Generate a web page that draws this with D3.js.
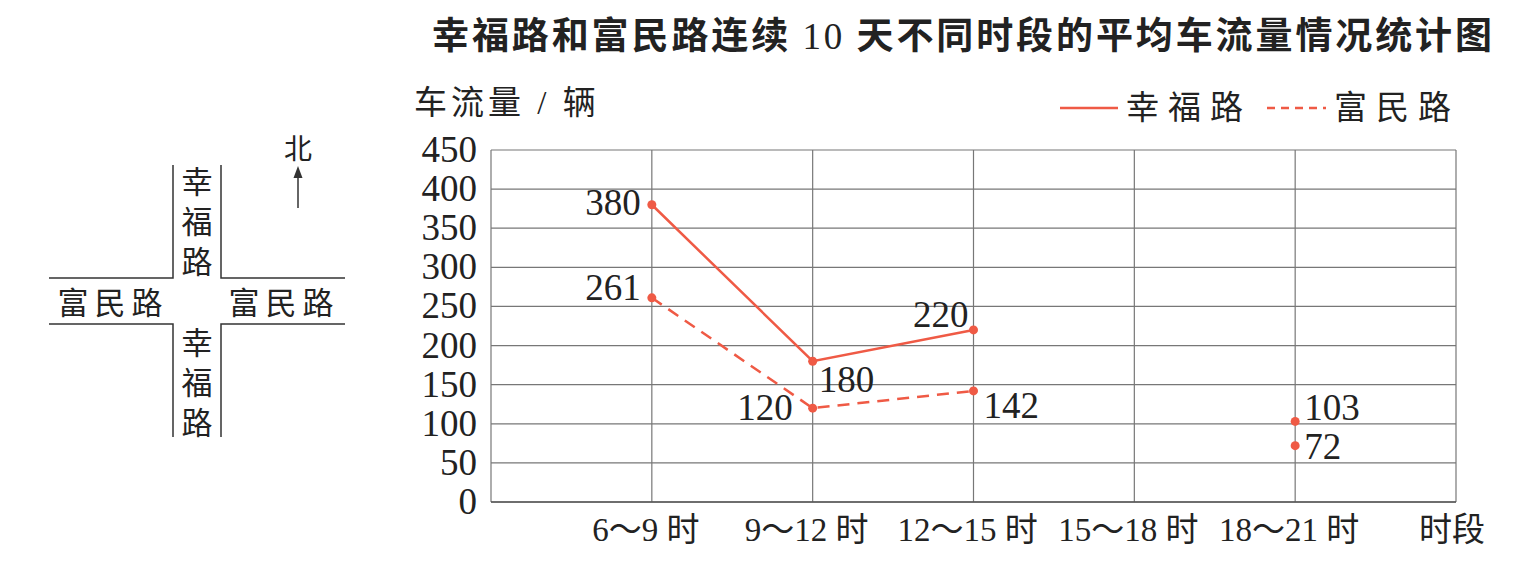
<!DOCTYPE html>
<html><head><meta charset="utf-8">
<script src="https://cdn.jsdelivr.net/npm/d3@7"></script>
<style>
html,body{margin:0;padding:0;background:#fff;}
svg{display:block;}
text{font-family:"Liberation Serif","Noto Sans CJK SC",serif;fill:#222;}
</style></head>
<body>
<svg id="c" width="1534" height="562"></svg>
<script>
const categories = ["6～9 时","9～12 时","12～15 时","15～18 时","18～21 时"];
const xingfu = [380, 180, 220, null, 103];
const fumin  = [261, 120, 142, null, 72];
const yTicks = [0,50,100,150,200,250,300,350,400,450];
const seriesNames = ["幸福路","富民路"];
const titleParts = ["幸福路和富民路连续 ","10"," 天不同时段的平均车流量情况统计图"];
const yLabel = "车流量 / 辆";
const xLabel = "时段";

const color = "#ef5a45";
const svg = d3.select("#c");
const L = 491, R = 1456, T = 150, B = 502;
const x = d3.scalePoint().domain(categories).range([L, R]).padding(1);
const y = d3.scaleLinear().domain([0, 450]).range([B, T]);

// title
const tt = svg.append("text").attr("x", 432).attr("y", 49)
  .attr("textLength", 1060).attr("lengthAdjust","spacing")
  .style("font-family",'"Noto Sans CJK SC",sans-serif').style("font-weight","bold")
  .style("font-size","37px");
tt.append("tspan").text(titleParts[0]);
tt.append("tspan").style("font-family",'"Liberation Serif",serif').style("font-weight","normal").text(titleParts[1]);
tt.append("tspan").text(titleParts[2]);

// y label
svg.append("text").attr("x", 414).attr("y", 114).style("font-size","33px").style("letter-spacing","4px").text(yLabel);

// grid
const g = svg.append("g");
g.selectAll(".h").data(yTicks).join("line")
  .attr("x1", L).attr("x2", R).attr("y1", d=>y(d)).attr("y2", d=>y(d))
  .attr("stroke","#777").attr("stroke-width",1.2);
const vx = [L, ...categories.map(c=>x(c)), R];
g.selectAll(".v").data(vx).join("line")
  .attr("x1", d=>d).attr("x2", d=>d).attr("y1", T).attr("y2", B)
  .attr("stroke","#777").attr("stroke-width",1.2);
g.append("line").attr("x1",L).attr("x2",R).attr("y1",B).attr("y2",B).attr("stroke","#555").attr("stroke-width",1.5);

// y ticks
svg.append("g").selectAll("text").data(yTicks).join("text")
  .attr("x", 477).attr("y", d=>y(d)+12).attr("text-anchor","end")
  .style("font-size","37px").text(d=>d);

// x ticks
svg.append("g").selectAll("text").data(categories).join("text")
  .attr("x", d=>x(d)-6).attr("y", 541).attr("text-anchor","middle")
  .style("font-size","33px").text(d=>d);
svg.append("text").attr("x", 1452).attr("y", 541).attr("text-anchor","middle")
  .style("font-size","33px").text(xLabel);

// lines
const line = d3.line().defined(d=>d.v!=null).x(d=>x(d.c)).y(d=>y(d.v));
const s1 = categories.map((c,i)=>({c, v:xingfu[i]}));
const s2 = categories.map((c,i)=>({c, v:fumin[i]}));
svg.append("path").attr("d", line(s1)).attr("fill","none").attr("stroke",color).attr("stroke-width",2.5);
svg.append("path").attr("d", line(s2)).attr("fill","none").attr("stroke",color).attr("stroke-width",2.5).attr("stroke-dasharray","12,8");
svg.append("g").selectAll("circle").data([...s1,...s2].filter(d=>d.v!=null)).join("circle")
  .attr("cx", d=>x(d.c)).attr("cy", d=>y(d.v)).attr("r",4.5).attr("fill",color);

// value labels: [series, index, dx, dy, anchor]
const labelPos = [
  [s1,0,-11,10,"end"],[s1,1,6,31,"start"],[s1,2,-5,-3,"end"],[s1,4,9,-1,"start"],
  [s2,0,-11,2,"end"],[s2,1,-20,12,"end"],[s2,2,10,27,"start"],[s2,4,9,13,"start"]
];
svg.append("g").selectAll("text").data(labelPos).join("text")
  .attr("x", d=>x(d[0][d[1]].c)+d[2]).attr("y", d=>y(d[0][d[1]].v)+d[3])
  .attr("text-anchor", d=>d[4]).style("font-size","37px").text(d=>d[0][d[1]].v);

// legend
const lg = svg.append("g");
lg.append("line").attr("x1",1060).attr("x2",1118).attr("y1",108).attr("y2",108).attr("stroke",color).attr("stroke-width",2.5);
lg.append("text").attr("x",1126).attr("y",119).style("font-size","33px").style("letter-spacing","9px").text(seriesNames[0]);
lg.append("line").attr("x1",1267).attr("x2",1326).attr("y1",108).attr("y2",108).attr("stroke",color).attr("stroke-width",2.5).attr("stroke-dasharray","8,6");
lg.append("text").attr("x",1334).attr("y",119).style("font-size","33px").style("letter-spacing","9px").text(seriesNames[1]);

// map
const m = svg.append("g").attr("stroke","#333").attr("stroke-width",1.5).attr("fill","none");
m.append("path").attr("d","M173,165V278H49");
m.append("path").attr("d","M221,165V278H345");
m.append("path").attr("d","M173,437V324H49");
m.append("path").attr("d","M221,437V324H345");
const mt = svg.append("g").style("font-size","31px").attr("text-anchor","middle");
["幸","福","路"].forEach((ch,i)=>{
  mt.append("text").attr("x",197).attr("y",193+i*40).text(ch);
  mt.append("text").attr("x",197).attr("y",354+i*40).text(ch);
});
mt.append("text").attr("x",113).attr("y",314).style("letter-spacing","6px").text("富民路");
mt.append("text").attr("x",284).attr("y",314).style("letter-spacing","6px").text("富民路");
mt.append("text").attr("x",298).attr("y",159).style("font-size","28px").text("北");
svg.append("line").attr("x1",298).attr("x2",298).attr("y1",208).attr("y2",174).attr("stroke","#333").attr("stroke-width",1.5);
svg.append("path").attr("d","M298,166L293.5,178L302.5,178Z").attr("fill","#333");
</script>
</body></html>
